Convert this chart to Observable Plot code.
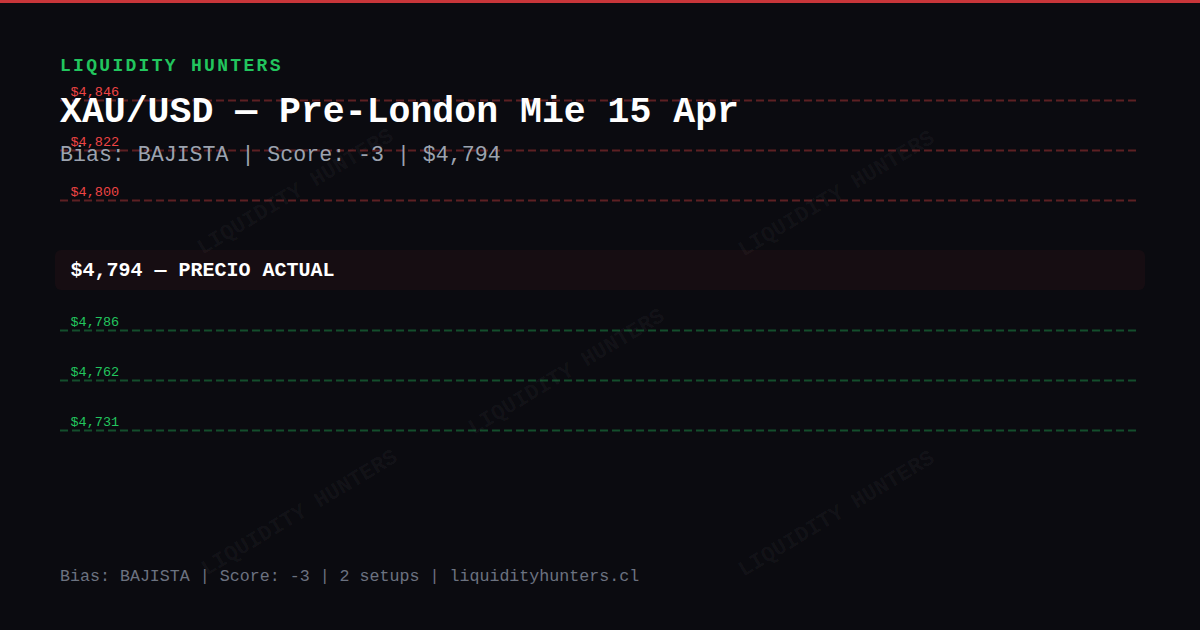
<!DOCTYPE html>
<html>
<head>
<meta charset="utf-8">
<script src="https://cdn.jsdelivr.net/npm/d3@7"></script>
<script src="https://cdn.jsdelivr.net/npm/@observablehq/plot@0.6"></script>
<style>
  html, body { margin: 0; padding: 0; background: #0b0b10; }
  #page { position: relative; width: 1200px; height: 630px; background: #0b0b10; overflow: hidden;
          font-family: "Liberation Mono", monospace; }
  #topbar { position: absolute; left: 0; top: 0; width: 1200px; height: 3px; background: #c8363a; }
  .wm { position: absolute; white-space: nowrap; font-weight: bold; font-size: 22px; line-height: 1;
        color: rgba(255,255,255,0.045); transform: translate(-50%, -50%) rotate(-31deg); }
  #chart { position: absolute; left: 0; top: 0; }
  .txt { position: absolute; left: 60px; white-space: nowrap; line-height: 1; }
  #brand { top: 56.5px; font-size: 18px; font-weight: bold; letter-spacing: 2.3px; color: #22c55e; }
  #title { top: 95px; font-size: 36.5px; font-weight: bold; color: #ffffff; }
  #subtitle { top: 145px; font-size: 21.6px; color: #9ca3af; }
  #footer { top: 569px; font-size: 16.65px; color: #6b7280; }
</style>
</head>
<body>
<div id="page">
  <div id="topbar"></div>
  <div id="watermarks"></div>
  <div id="chart"></div>
  <div class="txt" id="brand"></div>
  <div class="txt" id="title"></div>
  <div class="txt" id="subtitle"></div>
  <div class="txt" id="footer"></div>
</div>
<script>
// ---- data ----
const brand = "LIQUIDITY HUNTERS";
const symbol = "XAU/USD";
const session = "Pre-London Mie 15 Apr";
const bias = "BAJISTA";
const score = -3;
const setups = 2;
const site = "liquidityhunters.cl";
const resistanceLevels = [4846, 4822, 4800];
const currentPrice = 4794;
const supportLevels = [4786, 4762, 4731];
const currentLabel = "PRECIO ACTUAL";

// ---- formatting ----
const money = v => "$" + d3.format(",")(v);

// ---- header / footer text ----
document.getElementById("brand").textContent = brand;
document.getElementById("title").textContent = `${symbol} — ${session}`;
document.getElementById("subtitle").textContent = `Bias: ${bias} | Score: ${score} | ${money(currentPrice)}`;
document.getElementById("footer").textContent = `Bias: ${bias} | Score: ${score} | ${setups} setups | ${site}`;

// ---- watermarks (decoration) ----
const wmSpots = [[296, 193], [837, 195], [567, 373], [300, 514], [837, 515]];
const wmBox = document.getElementById("watermarks");
for (const [l, t] of wmSpots) {
  const d = document.createElement("div");
  d.className = "wm";
  d.style.left = l + "px";
  d.style.top = t + "px";
  d.textContent = brand;
  wmBox.appendChild(d);
}

// ---- layout rows (slot units: one slot per level row) ----
const nR = resistanceLevels.length;
const resRows = resistanceLevels.map((v, i) => ({value: v, slot: i, label: money(v)}));
const bandRow = {value: currentPrice, top: nR, bottom: nR + 0.8, mid: nR + 0.4,
                 label: `${money(currentPrice)} — ${currentLabel}`};
const supRows = supportLevels.map((v, j) => ({value: v, slot: nR + 1.6 + j, label: money(v)}));

const red = "#ef4444";
const green = "#22c55e";

const chart = Plot.plot({
  width: 1200,
  height: 630,
  marginTop: 0,
  marginBottom: 0,
  marginLeft: 60,
  marginRight: 64,
  x: {domain: [0, 1], axis: null},
  y: {domain: [-2, 10.6], range: [0, 630], axis: null},
  style: {background: "transparent", fontFamily: "'Liberation Mono', monospace", overflow: "visible"},
  marks: [
    Plot.rect([bandRow], {x1: () => 0, x2: () => 1, y1: "top", y2: "bottom",
      fill: red, fillOpacity: 0.05, rx: 6, insetLeft: -5, insetRight: -9}),
    Plot.ruleY(resRows, {y: "slot", x1: () => 0, x2: () => 1, stroke: red, strokeOpacity: 0.36,
      strokeWidth: 2, strokeDasharray: "8,4"}),
    Plot.ruleY(supRows, {y: "slot", x1: () => 0, x2: () => 1, stroke: green, strokeOpacity: 0.36,
      strokeWidth: 2, strokeDasharray: "8,4"}),
    Plot.text(resRows, {x: () => 0, y: "slot", text: "label", textAnchor: "start", lineAnchor: "bottom",
      dx: 10, dy: -5, fill: red, fontSize: 13.5}),
    Plot.text(supRows, {x: () => 0, y: "slot", text: "label", textAnchor: "start", lineAnchor: "bottom",
      dx: 10, dy: -5, fill: green, fontSize: 13.5}),
    Plot.text([bandRow], {x: () => 0, y: "mid", text: "label", textAnchor: "start",
      dx: 10, dy: -1, fill: "#ffffff", fontSize: 20, fontWeight: "bold"})
  ]
});
document.getElementById("chart").appendChild(chart);
</script>
</body>
</html>
